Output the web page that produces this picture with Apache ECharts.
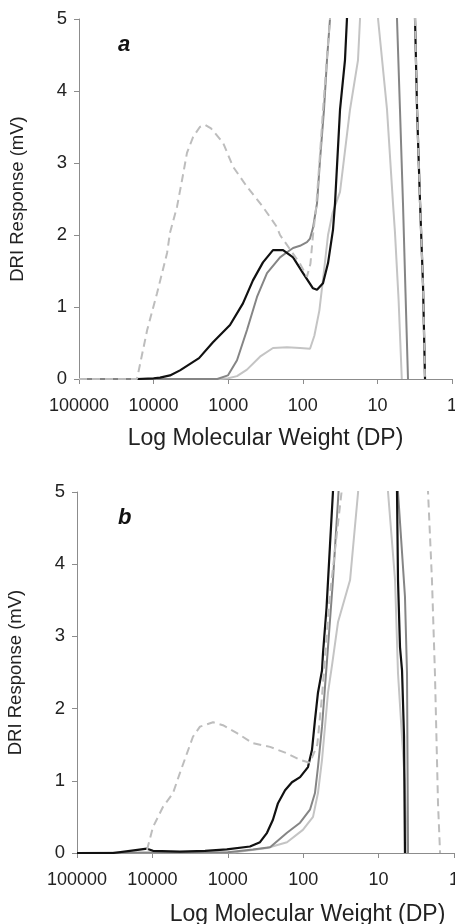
<!DOCTYPE html>
<html>
<head>
<meta charset="utf-8">
<script src="https://cdn.jsdelivr.net/npm/echarts@6/dist/echarts.min.js"></script>
<style>
html,body{margin:0;padding:0;background:#fff;}
#chart{width:455px;height:924px;}
</style>
</head>
<body>
<div id="chart"></div>
<script>
// ---- tick labels ----
const xTickLabels = ['1', '10', '100', '1000', '10000', '100000']; // indexed by decade exponent
const yTicks = [0, 1, 2, 3, 4, 5];
const panelLabels = ['a', 'b'];
const xTitle = 'Log Molecular Weight (DP)';
const yTitle = 'DRI Response (mV)';

// ---- panel a : [molecular weight (DP), DRI response (mV)] ----
const aBlack = [[16700,0],[10000,0.01],[8200,0.02],[6030,0.05],[4430,0.12],[2460,0.29],[1600,0.51],[946,0.75],[634,1.05],[466,1.37],[342,1.62],[251,1.79],[184,1.79],[135,1.69],[99.3,1.47],[73,1.26],[64.5,1.24],[53.6,1.33],[45.9,1.61],[39.4,2.07],[37,2.44],[31.7,3.74],[27.2,4.43],[25.6,5.0],[8,30],[3.13,5.0],[2.94,3.74],[2.69,2.49],[2.45,1.33],[2.30,0]];
const aGray = [[100000,0],[1400,0],[1010,0.05],[762,0.26],[560,0.68],[411,1.14],[302,1.47],[202,1.69],[163,1.76],[135,1.82],[109,1.85],[88,1.9],[80,1.95],[73,2.1],[64.5,2.44],[58.8,3.04],[52,3.74],[47.4,4.43],[43.2,5.0],[15,30],[5.46,5.0],[4.98,3.74],[4.54,2.44],[4.2,1.2],[3.89,0]];
const aLight = [[100000,0],[1300,0],[1000,0.01],[762,0.04],[560,0.13],[375,0.31],[251,0.43],[163,0.44],[109,0.43],[80,0.42],[70,0.6],[60,0.95],[52,1.5],[45.9,2.0],[40,2.3],[31.7,2.6],[23.3,3.74],[18.2,4.43],[17.1,5.0],[12,30],[9.8,5.0],[7.43,3.74],[6.18,2.44],[5.81,2.03],[5.2,1.1],[4.71,0]];
const aDashed = [[100000,0],[16700,0],[12200,0.68],[9000,1.19],[6600,1.75],[6030,2.03],[4860,2.39],[4160,2.76],[3570,3.14],[2960,3.36],[2400,3.5],[2050,3.53],[1700,3.48],[1170,3.28],[863,2.95],[560,2.67],[342,2.39],[222,2.11],[202,2.0],[148,1.8],[109,1.6],[88,1.42],[79,1.6],[73,2.0],[66,2.4],[59,3.1],[53.6,3.74],[48,4.4],[43.2,5.0],[12,30],[3.13,5.0],[2.94,3.74],[2.69,2.49],[2.45,1.33],[2.30,0]];

// ---- panel b ----
const bBlack = [[100000,0],[33400,0],[19800,0.03],[11800,0.06],[9820,0.03],[4310,0.02],[2000,0.03],[1030,0.05],[508,0.09],[374,0.15],[302,0.28],[252,0.46],[216,0.69],[174,0.87],[141,0.98],[110,1.05],[86.4,1.19],[76.4,1.43],[69.8,1.84],[63.7,2.22],[56.3,2.53],[54.6,2.77],[49,3.4],[44.2,4.25],[40.3,5.0],[12,30],[5.70,5.0],[5.53,3.78],[5.20,2.85],[4.89,2.53],[4.60,1.61],[4.47,0]];
const bGray = [[100000,0],[1000,0.01],[464,0.05],[275,0.08],[164,0.28],[110,0.42],[81.3,0.6],[69.8,0.83],[63.7,1.19],[56.3,1.75],[51.4,2.3],[48.3,2.67],[40.3,3.78],[34,5.0],[12,30],[5.53,5.0],[4.47,3.55],[4.2,2.49],[4.07,0]];
const bLight = [[100000,0],[800,0.01],[302,0.07],[164,0.15],[101,0.32],[74.1,0.5],[63.7,0.83],[56.3,1.29],[51.4,1.75],[46.9,2.22],[41.5,2.6],[34.5,3.2],[23.9,3.78],[18.7,5.0],[12,30],[7.5,5.0],[6.05,3.78],[5.53,2.49],[4.5,1.0],[4.2,0]];
const bDashed = [[11800,0.04],[9820,0.36],[7230,0.64],[5330,0.83],[4310,1.11],[3480,1.38],[2900,1.61],[2340,1.75],[1570,1.81],[1160,1.77],[755,1.66],[464,1.52],[275,1.47],[164,1.38],[110,1.29],[81.3,1.25],[65,1.5],[56,2.2],[45,3.5],[36,4.4],[31,5.0],[8,30],[2.21,5.0],[1.96,3.78],[1.79,2.49],[1.63,0.69],[1.53,0]];

const FONT = '"Liberation Sans", Arial, sans-serif';
const TXT = '#222';
const AX = '#8c8c8c';

function xAxisFor(gridIndex, nameGap, namePad) {
  return {
    type: 'log', logBase: 10, gridIndex, min: 1, max: 100000, inverse: true, splitNumber: 5,
    name: xTitle, nameLocation: 'middle', nameGap,
    nameTextStyle: { fontFamily: FONT, fontSize: 23, color: TXT, padding: namePad },
    axisLine: { show: true, lineStyle: { color: AX, width: 1 } },
    axisTick: { show: true, length: 5, lineStyle: { color: AX } },
    axisLabel: { fontFamily: FONT, fontSize: 18, color: TXT, margin: 18,
      formatter: v => xTickLabels[Math.round(Math.log10(v))] },
    splitLine: { show: false }, minorTick: { show: false }
  };
}
function yAxisFor(gridIndex) {
  return {
    type: 'value', gridIndex, min: yTicks[0], max: yTicks[yTicks.length - 1], interval: 1,
    name: yTitle, nameLocation: 'middle', nameGap: 52, nameRotate: 90,
    nameTextStyle: { fontFamily: FONT, fontSize: 18.5, color: TXT },
    axisLine: { show: true, lineStyle: { color: AX, width: 1 } },
    axisTick: { show: true, length: 5, lineStyle: { color: AX } },
    axisLabel: { fontFamily: FONT, fontSize: 18.5, color: TXT, margin: 12 },
    splitLine: { show: false }
  };
}
function line(data, xi, color, width, dashed) {
  return {
    type: 'line', data, xAxisIndex: xi, yAxisIndex: xi, showSymbol: false, symbol: 'none',
    clip: true, animation: false,
    lineStyle: { color, width, type: dashed ? [8, 5] : 'solid' }
  };
}

const chart = echarts.init(document.getElementById('chart'), null, { renderer: 'canvas' });
chart.setOption({
  backgroundColor: '#fff',
  animation: false,
  grid: [
    { left: 79, right: 3, top: 19, bottom: 545, outerBoundsMode: 'none', containLabel: false },
    { left: 77, right: 1, top: 492, bottom: 71, outerBoundsMode: 'none', containLabel: false }
  ],
  xAxis: [xAxisFor(0, 48, [0, 0, 0, 0]), xAxisFor(1, 50, [0, 0, 0, 84])],
  yAxis: [yAxisFor(0), yAxisFor(1)],
  graphic: [
    { type: 'text', left: 118, top: 34, style: { text: panelLabels[0], font: 'italic bold 22px ' + FONT, fill: '#111' } },
    { type: 'text', left: 118, top: 507, style: { text: panelLabels[1], font: 'italic bold 22px ' + FONT, fill: '#111' } }
  ],
  series: [
    line(aLight, 0, '#c4c4c4', 2, false),
    line(aGray, 0, '#858585', 2, false),
    line(aBlack, 0, '#111111', 2.2, false),
    line(aDashed, 0, '#bdbdbd', 2, true),
    line(bLight, 1, '#c4c4c4', 2, false),
    line(bGray, 1, '#858585', 2, false),
    line(bBlack, 1, '#111111', 2.2, false),
    line(bDashed, 1, '#bdbdbd', 2, true)
  ]
});
</script>
</body>
</html>
